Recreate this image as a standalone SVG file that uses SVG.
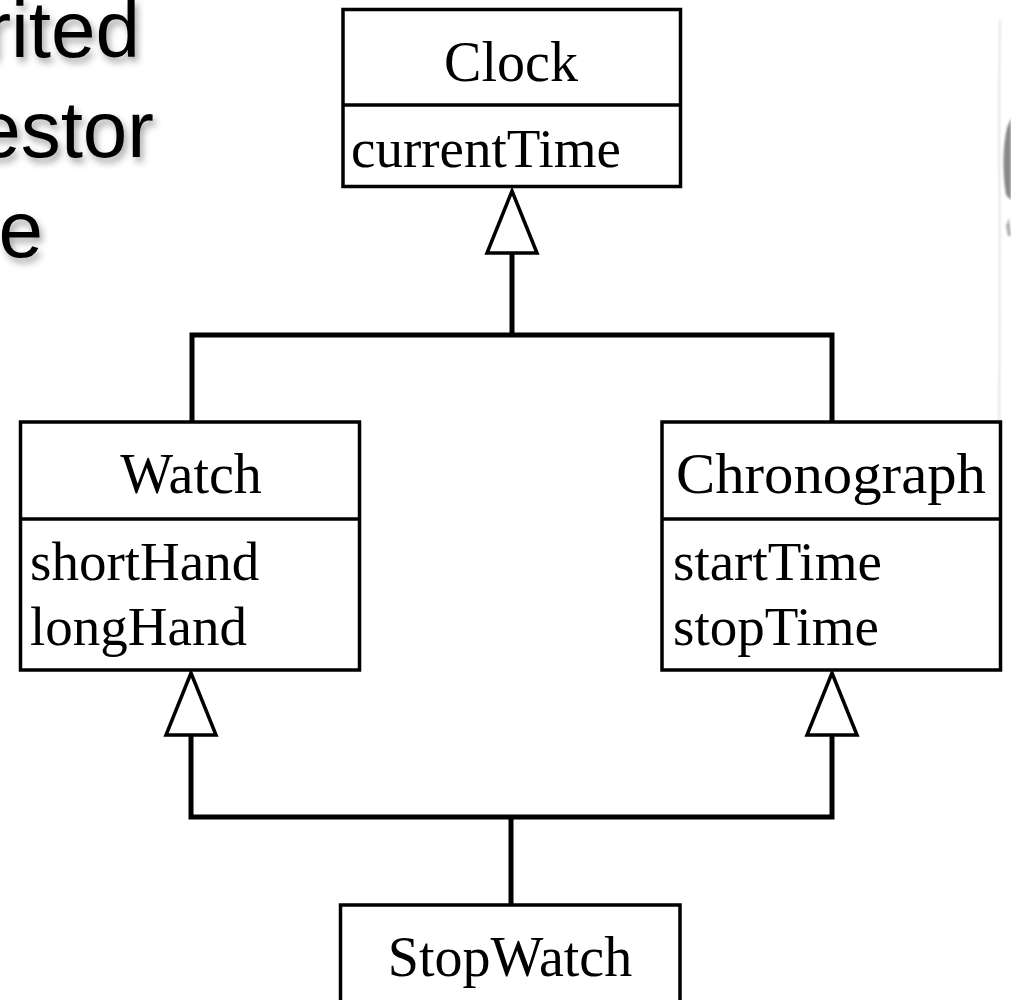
<svg xmlns="http://www.w3.org/2000/svg" width="1011" height="1000" viewBox="0 0 1011 1000">
  <defs>
    <filter id="shadow" x="-20%" y="-20%" width="140%" height="150%">
      <feDropShadow dx="3" dy="5" stdDeviation="3.5" flood-color="#000" flood-opacity="0.35"/>
    </filter>
    <filter id="soft" x="-50%" y="-10%" width="200%" height="120%">
      <feGaussianBlur stdDeviation="1.2"/>
    </filter>
  </defs>
  <style>
    .box { fill: #fff; stroke: #000; stroke-width: 3.5; }
    .div { stroke: #000; stroke-width: 3.5; }
    .name { font-family: "Liberation Serif", "Times New Roman", serif; font-size: 56px; fill: #000; text-anchor: middle; }
    .attr { font-family: "Liberation Serif", "Times New Roman", serif; font-size: 55px; fill: #000; }
    .wire { fill: none; stroke: #000; stroke-width: 5; stroke-linecap: square; stroke-linejoin: miter; }
    .head { fill: #fff; stroke: #000; stroke-width: 3.5; stroke-linejoin: miter; }
    .slide { font-family: "Liberation Sans", Arial, sans-serif; font-size: 80px; fill: #000; text-anchor: end; }
  </style>

  <rect width="1011" height="1000" fill="#fff"/>

  <!-- slide title fragments behind the diagram -->
  <g id="slide-text" filter="url(#shadow)">
    <text class="slide" x="140" y="57">rited</text>
    <text class="slide" x="154" y="157">estor</text>
    <text class="slide" x="43" y="257">e</text>
  </g>

  <!-- edge of a photo along the right border -->
  <g id="photo-edge" filter="url(#soft)">
    <path d="M1000 20 C998 120 1001 250 999 430" fill="none" stroke="#ddd" stroke-width="1.5"/>
    <path d="M1011 118 L1007 128 C1003 145 1002 170 1006 195 L1011 200 Z" fill="#888"/>
    <path d="M1009 218 L1006 226 L1008 236 L1011 236 Z" fill="#aaa"/>
  </g>

  <!-- generalization connectors -->
  <g id="connectors">
    <path class="wire" d="M512 253 V335 M192 335 H832 M192 335 V421 M832 335 V421"/>
    <path class="wire" d="M191 735 V817 M832 735 V817 M191 817 H832 M511 817 V904"/>
    <polygon class="head" points="512,191 537,253 487,253"/>
    <polygon class="head" points="191,673 216,735 166,735"/>
    <polygon class="head" points="832,673 857,735 807,735"/>
  </g>

  <g id="clock">
    <rect class="box" x="343" y="9.5" width="337.5" height="177"/>
    <line class="div" x1="343" y1="105" x2="680.5" y2="105"/>
    <text class="name" x="511" y="81">Clock</text>
    <text class="attr" x="351" y="167">currentTime</text>
  </g>

  <g id="watch">
    <rect class="box" x="20.5" y="422" width="339" height="248"/>
    <line class="div" x1="20.5" y1="519" x2="359.5" y2="519"/>
    <text class="name" x="191" y="493">Watch</text>
    <text class="attr" x="30" y="580">shortHand</text>
    <text class="attr" x="30" y="645">longHand</text>
  </g>

  <g id="chronograph">
    <rect class="box" x="662" y="422" width="338.5" height="248"/>
    <line class="div" x1="662" y1="519" x2="1000.5" y2="519"/>
    <text class="name" x="831" y="493" textLength="310" lengthAdjust="spacingAndGlyphs">Chronograph</text>
    <text class="attr" x="673" y="580">startTime</text>
    <text class="attr" x="673" y="645">stopTime</text>
  </g>

  <g id="stopwatch">
    <rect class="box" x="340.5" y="905" width="339.5" height="110"/>
    <text class="name" x="510" y="976">StopWatch</text>
  </g>
</svg>
